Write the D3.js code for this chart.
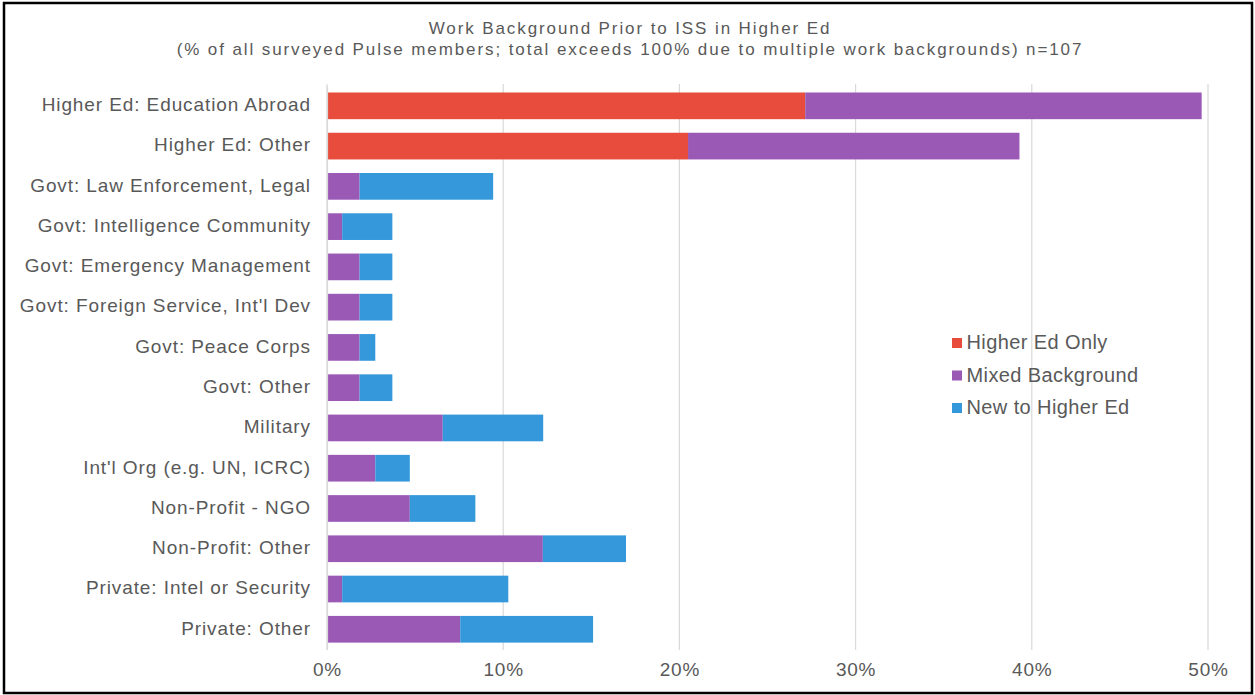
<!DOCTYPE html>
<html><head><meta charset="utf-8">
<script src="https://cdn.jsdelivr.net/npm/d3@7"></script>
<style>
body{margin:0;background:#fff;}
text{font-family:"Liberation Sans",Arial,sans-serif;fill:#595959;}
</style></head><body>
<svg id="c" width="1255" height="695"></svg>
<script>
const categories = ["Higher Ed: Education Abroad","Higher Ed: Other","Govt: Law Enforcement, Legal","Govt: Intelligence Community","Govt: Emergency Management","Govt: Foreign Service, Int'l Dev","Govt: Peace Corps","Govt: Other","Military","Int'l Org (e.g. UN, ICRC)","Non-Profit - NGO","Non-Profit: Other","Private: Intel or Security","Private: Other"];
const higherEdOnly = [27.14,20.49,0,0,0,0,0,0,0,0,0,0,0,0];
const mixedBackground = [22.50,18.81,1.85,0.86,1.85,1.85,1.85,1.85,6.57,2.74,4.70,12.25,0.86,7.56];
const newToHigherEd = [0,0,7.58,2.85,1.86,1.86,0.89,1.86,5.70,1.96,3.72,4.72,9.43,7.54];
const seriesNames = ["Higher Ed Only","Mixed Background","New to Higher Ed"];
const colors = ["#E74C3C","#9B59B6","#3498DB"];
const xTicks = [0,10,20,30,40,50];

const svg = d3.select("#c");
svg.append("rect").attr("x",4).attr("y",3).attr("width",1248).attr("height",690)
  .attr("fill","#fff").attr("stroke","#000").attr("stroke-width",2.5);

const x = d3.scaleLinear().domain([0,50]).range([327,1208]);
const y = d3.scaleBand().domain(categories).range([85.7,649.4]).paddingInner(0.337).paddingOuter(0.1685);

// gridlines
svg.append("g").selectAll("line").data(xTicks).join("line")
  .attr("x1",d=>x(d)).attr("x2",d=>x(d)).attr("y1",84).attr("y2",650)
  .attr("stroke","#d9d9d9").attr("stroke-width",1.2);

const data = categories.map((c,i)=>({cat:c, vals:[higherEdOnly[i],mixedBackground[i],newToHigherEd[i]]}));
const stack = d3.stack().keys([0,1,2]).value((d,k)=>d.vals[k]);
const layers = stack(data);
svg.append("g").selectAll("g").data(layers).join("g").attr("fill",(d,i)=>colors[i])
  .selectAll("rect").data(d=>d).join("rect")
  .attr("x",d=>x(d[0])).attr("width",d=>Math.max(0,x(d[1])-x(d[0])))
  .attr("y",d=>y(d.data.cat)).attr("height",y.bandwidth());

// y axis
const ya = svg.append("g").attr("transform","translate(327,0)").call(d3.axisLeft(y).tickSize(0).tickPadding(16));
ya.select(".domain").attr("stroke","#d9d9d9").attr("stroke-width",1.2);
ya.selectAll("text").style("font-size","19px").style("letter-spacing","0.9px")
  .style("font-family","'Liberation Sans',Arial,sans-serif").attr("fill","#595959").attr("dy","0.28em");

// x axis
const xa = svg.append("g").attr("transform","translate(0,650)").call(d3.axisBottom(x).tickValues(xTicks).tickFormat(d=>d+"%").tickSize(0).tickPadding(13));
xa.select(".domain").remove();
xa.selectAll("text").style("font-size","19px").style("letter-spacing","0.8px")
  .style("font-family","'Liberation Sans',Arial,sans-serif").attr("fill","#595959");

// title
svg.append("text").attr("x",630).attr("y",34).attr("text-anchor","middle").style("font-size","17px").style("letter-spacing","1.9px").text("Work Background Prior to ISS in Higher Ed");
svg.append("text").attr("x",630).attr("y",55).attr("text-anchor","middle").style("font-size","17px").style("letter-spacing","1.9px").text("(% of all surveyed Pulse members; total exceeds 100% due to multiple work backgrounds) n=107");

// legend
const lg = svg.append("g").attr("transform","translate(952,343)");
seriesNames.forEach((n,i)=>{
  lg.append("rect").attr("x",0).attr("y",i*32.5-5).attr("width",10).attr("height",10).attr("fill",colors[i]);
  lg.append("text").attr("x",14.5).attr("y",i*32.5+6).style("font-size","20px").style("letter-spacing","0.4px").text(n);
});
</script></body></html>
